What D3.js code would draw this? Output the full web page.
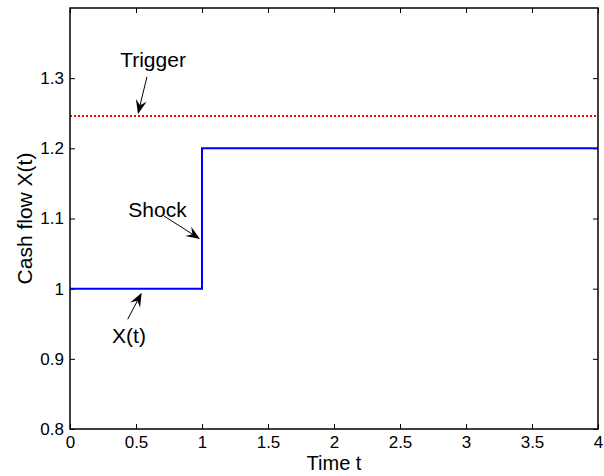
<!DOCTYPE html>
<html>
<head>
<meta charset="utf-8">
<script src="https://cdn.jsdelivr.net/npm/d3@7"></script>
<style>
body { margin: 0; background: #fff; }
text { font-family: "Liberation Sans", Arial, sans-serif; }
</style>
</head>
<body>
<svg width="604" height="476"></svg>
<script>
// data
var xTicks = [0, 0.5, 1, 1.5, 2, 2.5, 3, 3.5, 4];
var yTicks = [0.8, 0.9, 1, 1.1, 1.2, 1.3];
var cashT = [0, 1, 1, 4];
var cashX = [1, 1, 1.2, 1.2];
var trigger = 1.246;
// annotations: label, text baseline pos (data), arrow tail, arrow head (data)
var notes = [
  {label: "Trigger", tx: 0.629, ty: 1.316, x1: 0.583, y1: 1.302, x2: 0.515, y2: 1.249},
  {label: "Shock", tx: 0.663, ty: 1.102, x1: 0.712, y1: 1.1036, x2: 0.985, y2: 1.0708},
  {label: "X(t)", tx: 0.447, ty: 0.923, x1: 0.437, y1: 0.9564, x2: 0.543, y2: 0.9943}
];

var svg = d3.select("svg"),
    margin = {top: 8, right: 6, bottom: 47, left: 70},
    width = +svg.attr("width") - margin.left - margin.right,
    height = +svg.attr("height") - margin.top - margin.bottom,
    g = svg.append("g").attr("transform", "translate(" + margin.left + "," + margin.top + ")");

var x = d3.scaleLinear().domain([0, 4]).range([0, width]);
var y = d3.scaleLinear().domain([0.8, 1.4]).range([height, 0]);

var fmt = function(d) { return String(+d.toFixed(2)); };

// ticks (inward, mirrored)
g.append("g").attr("transform", "translate(0," + height + ")")
  .call(d3.axisBottom(x).tickValues(xTicks).tickSize(-5).tickPadding(7).tickFormat(fmt));
g.append("g")
  .call(d3.axisTop(x).tickValues(xTicks).tickSize(-5).tickFormat(""));
g.append("g")
  .call(d3.axisLeft(y).tickValues(yTicks).tickSize(-5).tickPadding(6).tickFormat(fmt));
g.append("g").attr("transform", "translate(" + width + ",0)")
  .call(d3.axisRight(y).tickValues(yTicks).tickSize(-5).tickFormat(""));

g.selectAll(".domain").remove();
g.selectAll(".tick text").attr("font-size", 17).attr("fill", "#000")
  .style("font-family", "'Liberation Sans', Arial, sans-serif");
g.selectAll(".tick line").attr("stroke", "#000");

// trigger line
g.append("line")
  .attr("x1", x(0)).attr("x2", x(4))
  .attr("y1", y(trigger)).attr("y2", y(trigger))
  .attr("stroke", "#ff0000").attr("stroke-width", 2)
  .attr("stroke-dasharray", "2,2");

// cash flow
var line = d3.line().x(function(d) { return x(d[0]); }).y(function(d) { return y(d[1]); });
g.append("path").datum(d3.zip(cashT, cashX))
  .attr("d", line).attr("fill", "none")
  .attr("stroke", "#0000ff").attr("stroke-width", 2);

// box
g.append("rect").attr("width", width).attr("height", height)
  .attr("fill", "none").attr("stroke", "#000").attr("stroke-width", 1.5);

// annotations
notes.forEach(function(n) {
  var ax1 = x(n.x1), ay1 = y(n.y1), ax2 = x(n.x2), ay2 = y(n.y2);
  var ang = Math.atan2(ay2 - ay1, ax2 - ax1);
  var L = 14, W = 5.5, back = 9;
  var bx = ax2 - back * Math.cos(ang), by = ay2 - back * Math.sin(ang);
  g.append("line").attr("x1", ax1).attr("y1", ay1).attr("x2", bx).attr("y2", by)
    .attr("stroke", "#000").attr("stroke-width", 1);
  var px = -Math.sin(ang), py = Math.cos(ang);
  var hx = ax2 - L * Math.cos(ang), hy = ay2 - L * Math.sin(ang);
  var pts = [[ax2, ay2], [hx + W * px, hy + W * py], [bx, by], [hx - W * px, hy - W * py]];
  g.append("path").attr("d", "M" + pts.join("L") + "Z").attr("fill", "#000");
  g.append("text").attr("x", x(n.tx)).attr("y", y(n.ty))
    .attr("text-anchor", "middle")
    .attr("font-size", 21).text(n.label);
});

// axis labels
svg.append("text").attr("x", margin.left + width / 2).attr("y", 470)
  .attr("text-anchor", "middle").attr("font-size", 20).text("Time t");
svg.append("text").attr("transform", "translate(32," + (margin.top + height / 2) + ") rotate(-90)")
  .attr("text-anchor", "middle").attr("font-size", 21).text("Cash flow X(t)");
</script>
</body>
</html>
